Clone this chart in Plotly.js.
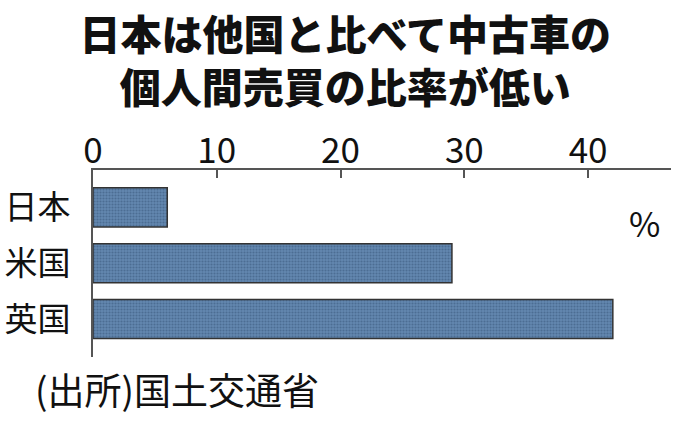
<!DOCTYPE html>
<html>
<head>
<meta charset="utf-8">
<script src="https://cdn.plot.ly/plotly-3.0.1.min.js"></script>
<style>html,body{margin:0;padding:0;background:#fff;}#chart{width:696px;height:427px;}</style>
</head>
<body>
<div id="chart"></div>
<script>
const titleLine1 = "日本は他国と比べて中古車の";
const titleLine2 = "個人間売買の比率が低い";
const categories = ["日本", "米国", "英国"];
const values = [6, 29, 42];
const tickValues = [0, 10, 20, 30, 40];
const unitLabel = "%";
const sourceLabel = "(出所)国土交通省";

const jp = "Noto Sans CJK JP, sans-serif";

const trace = {
  type: "bar",
  orientation: "h",
  x: values,
  y: categories,
  width: 0.7,
  marker: {
    color: "#5d82ab",
    line: {color: "#333333", width: 1.5},
    pattern: {shape: ".", fgcolor: "#4c6d93", bgcolor: "#6388b0", size: 3, solidity: 0.4}
  },
  hoverinfo: "skip"
};

const layout = {
  width: 696,
  height: 427,
  margin: {l: 93, r: 25, t: 170, b: 70},
  paper_bgcolor: "#ffffff",
  plot_bgcolor: "#ffffff",
  showlegend: false,
  title: {
    text: titleLine1 + "<br>" + titleLine2,
    font: {family: jp, size: 41, color: "#111111", weight: 900},
    x: 0.496, xref: "container", xanchor: "center",
    y: 1 - 50/427, yref: "container", yanchor: "middle"
  },
  xaxis: {
    side: "top",
    range: [0, 46.7],
    tickvals: tickValues,
    ticktext: tickValues.map(String),
    ticks: "inside",
    ticklen: 8,
    tickwidth: 2,
    tickcolor: "#555555",
    showline: true,
    linecolor: "#555555",
    linewidth: 2,
    showgrid: false,
    zeroline: false,
    tickfont: {family: jp, size: 35, color: "#111111"},
    ticklabelstandoff: -9,
    fixedrange: true
  },
  yaxis: {
    type: "category",
    range: [2.68, -0.67],
    showline: true,
    linecolor: "#555555",
    linewidth: 2,
    ticks: "",
    showgrid: false,
    zeroline: false,
    tickfont: {family: jp, size: 33, color: "#111111"},
    ticklabelstandoff: 14,
    fixedrange: true
  },
  annotations: [
    {
      text: unitLabel,
      xref: "paper", yref: "paper",
      x: (644 - 93) / 578, y: (357 - 222) / 187,
      xanchor: "center", yanchor: "middle",
      showarrow: false,
      font: {family: jp, size: 34, color: "#111111"}
    },
    {
      text: sourceLabel,
      xref: "paper", yref: "paper",
      x: (33 - 93) / 578, y: (357 - 389) / 187,
      xanchor: "left", yanchor: "middle",
      showarrow: false,
      font: {family: jp, size: 37, color: "#111111"}
    }
  ]
};

Plotly.newPlot("chart", [trace], layout, {displayModeBar: false, staticPlot: true});
</script>
</body>
</html>
